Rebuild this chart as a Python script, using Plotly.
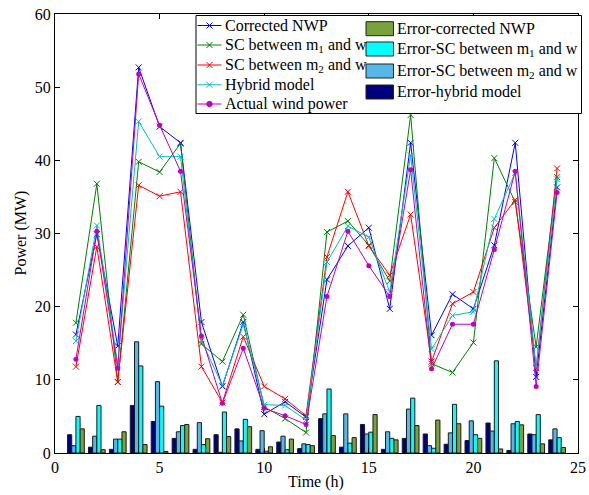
import plotly.graph_objects as go

# Hours of the forecast day
hours = list(range(1, 25))

# Power curves (MW)
corrected_nwp = [16.2, 29.9, 14.6, 52.7, 44.6, 42.4, 17.9, 9.1, 17.9, 5.3, 7.0, 4.9,
                 23.7, 28.3, 30.8, 19.7, 42.4, 16.1, 21.7, 19.7, 28.4, 42.4, 10.4, 36.3]
sc_m1 = [17.8, 36.8, 9.7, 39.8, 38.4, 42.3, 14.9, 12.5, 18.9, 6.3, 4.7, 2.8,
         30.2, 31.7, 28.4, 23.5, 46.2, 12.2, 11.0, 15.1, 40.3, 34.3, 14.5, 37.7]
sc_m2 = [11.8, 28.2, 9.7, 36.6, 35.1, 35.7, 11.8, 6.9, 15.9, 9.1, 7.4, 5.1,
         26.8, 35.7, 28.3, 24.3, 32.6, 12.5, 20.4, 22.0, 30.8, 34.6, 11.6, 38.9]
hybrid = [15.3, 31.1, 12.1, 45.3, 40.5, 40.5, 15.4, 9.2, 17.6, 6.6, 6.5, 4.5,
          26.1, 31.0, 29.5, 22.0, 40.7, 14.2, 18.8, 19.3, 32.0, 38.3, 11.7, 37.4]
actual = [12.8, 30.3, 11.6, 51.8, 44.8, 38.5, 16.0, 6.8, 14.3, 6.1, 5.1, 3.9,
          21.4, 30.3, 25.6, 21.4, 38.7, 11.5, 17.6, 17.6, 27.8, 38.5, 9.1, 35.6]

# Absolute forecast errors (MW)
err_hybrid = [2.5, 0.8, 0.5, 6.5, 4.3, 2.0, 0.5, 2.5, 3.3, 0.5, 1.5, 0.6,
              4.7, 0.8, 3.9, 0.5, 2.0, 2.6, 1.2, 1.7, 4.1, 0.35, 2.6, 1.8]
err_sc_m2 = [1.0, 2.3, 1.9, 15.2, 9.75, 2.9, 4.15, 0.1, 1.65, 3.05, 2.3, 1.25,
             5.35, 5.35, 2.6, 2.9, 6.0, 1.0, 2.75, 4.4, 3.0, 4.0, 2.5, 3.3]
err_sc_m1 = [5.0, 6.5, 1.9, 11.9, 6.4, 3.75, 1.15, 5.6, 4.6, 0.25, 0.45, 1.15,
             8.75, 1.35, 2.85, 2.0, 7.5, 0.65, 6.65, 2.5, 12.6, 4.3, 5.25, 2.1]
err_nwp = [3.3, 0.45, 2.9, 1.15, 0.2, 3.9, 1.95, 2.25, 3.6, 0.85, 1.9, 1.0,
           2.4, 2.1, 5.25, 1.8, 3.75, 4.5, 4.0, 2.0, 0.55, 3.85, 1.25, 0.75]

x_ticks = [0, 5, 10, 15, 20, 25]
y_ticks = [0, 10, 20, 30, 40, 50, 60]

FONT = "Liberation Serif"
NAVY, LBLUE, CYAN, OLIVE = "#00007F", "#55B8E8", "#00FFFF", "#77A33A"
BLUE, GREEN, RED, TEAL, MAGENTA = "#0000FF", "#008000", "#FF0000", "#00BFBF", "#BF00BF"

fig = go.Figure()

# Grouped error bars (hybrid, SC m2, SC m1, corrected NWP from left to right)
for vals, col in [(err_hybrid, NAVY), (err_sc_m2, LBLUE), (err_sc_m1, CYAN), (err_nwp, OLIVE)]:
    fig.add_trace(go.Bar(x=hours, y=vals, marker=dict(color=col, line=dict(color="#1a1a1a", width=1)),
                         showlegend=False))

# Power curves
for vals, col in [(corrected_nwp, BLUE), (sc_m1, GREEN), (sc_m2, RED), (hybrid, TEAL)]:
    fig.add_trace(go.Scatter(x=hours, y=vals, mode="lines+markers",
                             line=dict(color=col, width=1),
                             marker=dict(symbol="x-thin", size=6, line=dict(color=col, width=1)),
                             showlegend=False))
fig.add_trace(go.Scatter(x=hours, y=actual, mode="lines+markers",
                         line=dict(color=MAGENTA, width=1),
                         marker=dict(symbol="circle", size=5, color=MAGENTA),
                         showlegend=False))

# Page geometry
W, H = 589, 495
L, R, T, B = 55, 11, 14, 42
PW, PH = W - L - R, H - T - B


def px(x):
    return (x - L) / PW


def py(y):
    return (H - B - y) / PH


shapes = []
annotations = []

# Legend frame
shapes.append(dict(type="rect", xref="paper", yref="paper", x0=px(196), x1=px(581.5),
                   y0=py(113.5), y1=py(15.5), line=dict(color="black", width=1),
                   fillcolor="white", layer="above"))

line_items = [
    ("Corrected NWP", BLUE, "x"),
    ("SC between m<sub>1</sub> and w", GREEN, "x"),
    ("SC between m<sub>2</sub> and w", RED, "x"),
    ("Hybrid model", TEAL, "x"),
    ("Actual wind power", MAGENTA, "o"),
]
line_rows = [25.5, 45.0, 65.0, 84.8, 104.0]
for (label, col, mk), yr in zip(line_items, line_rows):
    shapes.append(dict(type="line", xref="paper", yref="paper", x0=px(197.5), x1=px(221.5),
                       y0=py(yr), y1=py(yr), line=dict(color=col, width=1), layer="above"))
    cx = 209.5
    if mk == "x":
        for d in (1, -1):
            shapes.append(dict(type="line", xref="paper", yref="paper",
                               x0=px(cx - 3), x1=px(cx + 3), y0=py(yr - 3 * d), y1=py(yr + 3 * d),
                               line=dict(color=col, width=1), layer="above"))
    else:
        shapes.append(dict(type="circle", xref="paper", yref="paper",
                           x0=px(cx - 2.7), x1=px(cx + 2.7), y0=py(yr + 2.7), y1=py(yr - 2.7),
                           line=dict(color=col, width=1), fillcolor=col, layer="above"))
    annotations.append(dict(text=label, xref="paper", yref="paper", x=px(222.5), y=py(yr),
                            xanchor="left", yanchor="middle", showarrow=False,
                            font=dict(family=FONT, size=16, color="black")))

bar_items = [
    ("Error-corrected NWP", OLIVE),
    ("Error-SC between m<sub>1</sub> and w", CYAN),
    ("Error-SC between m<sub>2</sub> and w", LBLUE),
    ("Error-hybrid model", NAVY),
]
bar_rows = [28.7, 49.0, 71.0, 92.0]
for (label, col), yr in zip(bar_items, bar_rows):
    shapes.append(dict(type="rect", xref="paper", yref="paper", x0=px(366), x1=px(393.5),
                       y0=py(yr + 7), y1=py(yr - 7), line=dict(color="#222222", width=1),
                       fillcolor=col, layer="above"))
    annotations.append(dict(text=label, xref="paper", yref="paper", x=px(395), y=py(yr),
                            xanchor="left", yanchor="middle", showarrow=False,
                            font=dict(family=FONT, size=16, color="black")))

# Axis titles
annotations.append(dict(text="Time (h)", xref="paper", yref="paper", x=px(316), y=py(482),
                        xanchor="center", yanchor="middle", showarrow=False,
                        font=dict(family=FONT, size=16, color="black")))
annotations.append(dict(text="Power (MW)", xref="paper", yref="paper", x=px(20), y=py(233.5),
                        xanchor="center", yanchor="middle", showarrow=False, textangle=-90,
                        font=dict(family=FONT, size=16, color="black")))

axis_common = dict(showline=True, linecolor="black", linewidth=1, mirror="ticks",
                   ticks="inside", ticklen=5, tickcolor="black", showgrid=False, zeroline=False,
                   automargin=False,
                   tickfont=dict(family=FONT, size=16, color="black"))

fig.update_layout(
    width=W, height=H,
    margin=dict(l=L, r=R, t=T, b=B),
    paper_bgcolor="white", plot_bgcolor="white",
    barmode="group", bargap=0.2, bargroupgap=0,
    showlegend=False,
    xaxis=dict(range=[0, 25], tickvals=x_ticks, **axis_common),
    yaxis=dict(range=[0, 60], tickvals=y_ticks, **axis_common),
    shapes=shapes,
    annotations=annotations,
)

fig.write_html("out.html")
